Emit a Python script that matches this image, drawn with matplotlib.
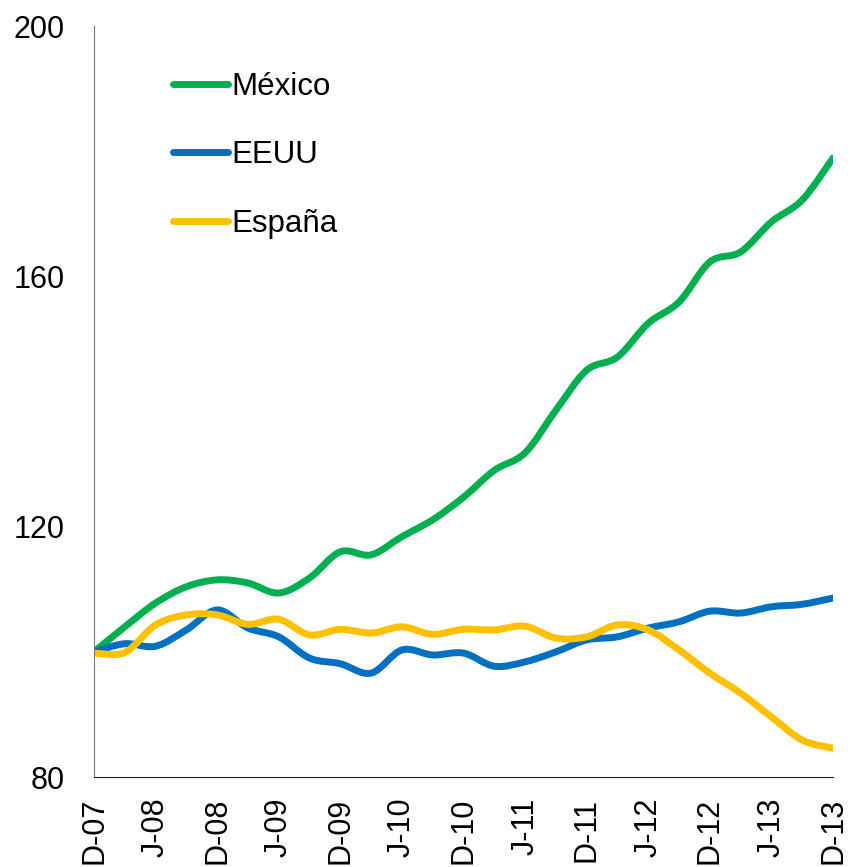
import matplotlib
matplotlib.use("Agg")
import matplotlib.pyplot as plt
from matplotlib.path import Path
from matplotlib.patches import PathPatch
from matplotlib.lines import Line2D

# quarterly index values, Dec-2007 = 100
quarters = list(range(25))
tick_labels = ["D-07", "J-08", "D-08", "J-09", "D-09", "J-10", "D-10",
               "J-11", "D-11", "J-12", "D-12", "J-13", "D-13"]

mexico = [100.0, 104.0, 107.8, 110.4, 111.5, 111.0, 109.4, 111.8, 116.0,
          115.5, 118.4, 121.1, 124.7, 129.0, 131.8, 138.6, 145.0, 147.1,
          152.5, 155.9, 162.3, 163.9, 168.7, 172.2, 178.9]
eeuu = [100.0, 101.3, 100.9, 103.5, 106.7, 103.8, 102.4, 99.0, 98.1,
        96.6, 100.3, 99.5, 99.8, 97.7, 98.4, 100.0, 101.9, 102.4,
        103.8, 104.8, 106.5, 106.2, 107.2, 107.6, 108.6]
espana = [99.8, 99.9, 104.3, 105.9, 105.9, 104.4, 105.2, 102.7, 103.6,
          103.0, 104.0, 102.8, 103.6, 103.5, 104.1, 102.2, 102.4, 104.3,
          103.5, 100.3, 96.6, 93.4, 89.6, 85.9, 84.6]

series = [("México", mexico, "#00B050"),
          ("EEUU", eeuu, "#0070C0"),
          ("España", espana, "#FFC000")]

plt.rcParams['font.family'] = ['Liberation Sans', 'DejaVu Sans']


def smooth_path(xs, ys):
    # Excel-style smoothed line: cubic bezier through every data point
    verts = [(xs[0], ys[0])]
    codes = [Path.MOVETO]
    n = len(xs)
    for i in range(n - 1):
        x0, y0 = xs[max(i - 1, 0)], ys[max(i - 1, 0)]
        x1, y1 = xs[i], ys[i]
        x2, y2 = xs[i + 1], ys[i + 1]
        x3, y3 = xs[min(i + 2, n - 1)], ys[min(i + 2, n - 1)]
        c1 = (x1 + (x2 - x0) / 6, y1 + (y2 - y0) / 6)
        c2 = (x2 - (x3 - x1) / 6, y2 - (y3 - y1) / 6)
        verts += [c1, c2, (x2, y2)]
        codes += [Path.CURVE4] * 3
    return Path(verts, codes)


fig = plt.figure(figsize=(8.5, 8.67), dpi=100)
ax = fig.add_axes([0.1106, 0.1038, 0.8694, 0.8662])

handles = []
for name, vals, color in series:
    patch = PathPatch(smooth_path(quarters, vals), facecolor="none",
                      edgecolor=color, lw=5, capstyle="round",
                      joinstyle="round")
    ax.add_patch(patch)
    handles.append(Line2D([], [], color=color, lw=5,
                          solid_capstyle="round", label=name))

ax.set_xlim(0, 24)
ax.set_ylim(80, 200)
ax.set_yticks([80, 120, 160, 200])
ax.set_xticks(quarters[::2])
ax.set_xticklabels(tick_labels, rotation=90, fontsize=22)
ax.tick_params(axis="y", length=0, pad=21, labelsize=22)
ax.tick_params(axis="x", length=0, pad=15)

for side in ["top", "right"]:
    ax.spines[side].set_visible(False)
ax.spines["left"].set_color("#777777")
ax.spines["bottom"].set_color("#222222")

ax.legend(handles=handles, loc="upper left", bbox_to_anchor=(0.107, 0.939),
          frameon=False, fontsize=22.5, handlelength=1.75, handletextpad=0.12,
          labelspacing=1.23, borderpad=0, borderaxespad=0)

fig.savefig("out.png", dpi=100)
